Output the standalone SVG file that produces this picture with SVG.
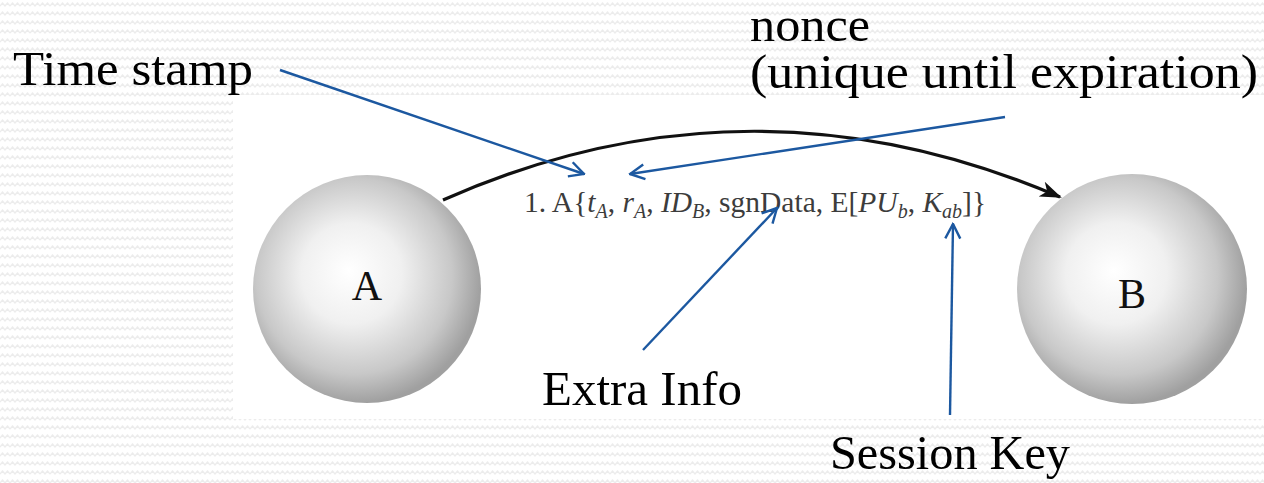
<svg xmlns="http://www.w3.org/2000/svg" width="1264" height="483" viewBox="0 0 1264 483">
  <style>
    .lbl { font-family: "Liberation Serif", "Times New Roman", serif; font-size: 48px; fill: #000; }
    .node-lbl { font-family: "Liberation Serif", "Times New Roman", serif; font-size: 42px; fill: #111; text-anchor: middle; }
    .formula { font-family: "Liberation Serif", "Times New Roman", serif; font-size: 29.5px; fill: #3c3c3c; }
    .it { font-style: italic; }
    .sub { font-size: 20px; font-style: italic; }
    .blue { stroke: #1c58a0; stroke-width: 2.4; fill: none; marker-end: url(#openArrow); }
    .msg { stroke: #111; stroke-width: 3.2; fill: none; marker-end: url(#solidArrow); }
  </style>
  <defs>
    <pattern id="zig" width="10" height="9" patternUnits="userSpaceOnUse">
      <rect width="10" height="9" fill="#ffffff"/>
      <path d="M0 6 L2.5 3 L5 6 L7.5 3 L10 6" stroke="#ececec" stroke-width="1.2" fill="none"/>
    </pattern>
    <radialGradient id="sphere" cx="0.45" cy="0.45" r="0.55" fx="0.42" fy="0.42">
      <stop offset="0" stop-color="#ffffff"/>
      <stop offset="0.4" stop-color="#f0f0f0"/>
      <stop offset="0.78" stop-color="#c8c8c8"/>
      <stop offset="1" stop-color="#a0a0a0"/>
    </radialGradient>
    <marker id="openArrow" viewBox="0 0 18 18" refX="16.5" refY="9" markerWidth="18" markerHeight="18" markerUnits="userSpaceOnUse" orient="auto">
      <path d="M2 1.5 L16.5 9 L2 16.5" fill="none" stroke="#1c58a0" stroke-width="2.4"/>
    </marker>
    <marker id="solidArrow" viewBox="0 0 22 16" refX="20" refY="8" markerWidth="22" markerHeight="16" markerUnits="userSpaceOnUse" orient="auto">
      <path d="M0 0 L22 8 L0 16 L6 8 Z" fill="#111"/>
    </marker>
  </defs>

  <rect x="0" y="0" width="1264" height="483" fill="url(#zig)"/>
  <rect x="233" y="95" width="1031" height="324" fill="#ffffff"/>

  <g id="node-A">
    <circle cx="367" cy="289" r="114" fill="url(#sphere)"/>
    <text class="node-lbl" x="367" y="300">A</text>
  </g>
  <g id="node-B">
    <circle cx="1132" cy="289" r="115" fill="url(#sphere)"/>
    <text class="node-lbl" x="1132" y="308">B</text>
  </g>

  <g id="message">
    <text class="formula" x="524" y="212">1. A{<tspan class="it">t</tspan><tspan class="sub" dy="6">A</tspan><tspan dy="-6">, </tspan><tspan class="it">r</tspan><tspan class="sub" dy="6">A</tspan><tspan dy="-6">, </tspan><tspan class="it">ID</tspan><tspan class="sub" dy="6">B</tspan><tspan dy="-6">, sgnData, E[</tspan><tspan class="it">PU</tspan><tspan class="sub" dy="6">b</tspan><tspan dy="-6">, </tspan><tspan class="it">K</tspan><tspan class="sub" dy="6">ab</tspan><tspan dy="-6">]}</tspan></text>
  </g>

  <g id="labels">
    <text class="lbl" x="13" y="85" textLength="240" lengthAdjust="spacingAndGlyphs">Time stamp</text>
    <text class="lbl" x="750" y="41" font-size="45" textLength="120" lengthAdjust="spacingAndGlyphs">nonce</text>
    <text class="lbl" x="750" y="88" textLength="508" lengthAdjust="spacingAndGlyphs">(unique until expiration)</text>
    <text class="lbl" x="542" y="405" textLength="200" lengthAdjust="spacingAndGlyphs">Extra Info</text>
    <text class="lbl" x="830" y="469" textLength="240" lengthAdjust="spacingAndGlyphs">Session Key</text>
  </g>

  <g id="connectors">
    <path class="msg" d="M443 200 Q750 64 1060 197"/>
    <line class="blue" x1="280" y1="70" x2="584" y2="174"/>
    <line class="blue" x1="1005" y1="117" x2="630" y2="174"/>
    <line class="blue" x1="643" y1="350" x2="777" y2="208"/>
    <line class="blue" x1="950" y1="415" x2="953" y2="224"/>
  </g>
</svg>
